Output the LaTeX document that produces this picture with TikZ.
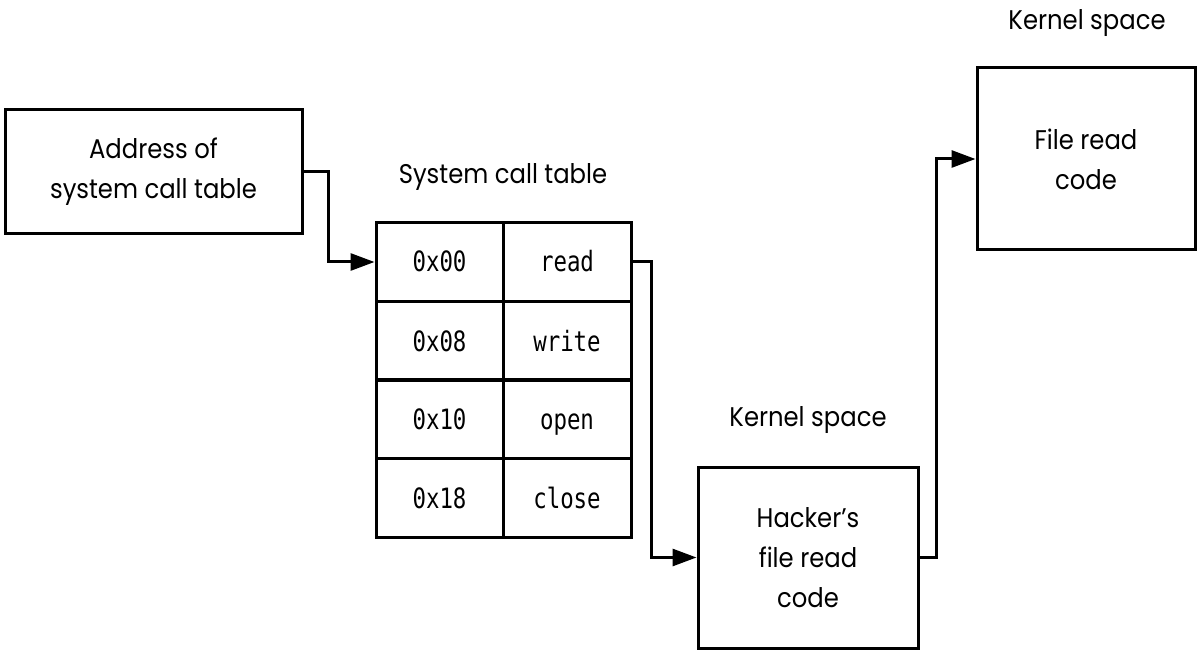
\documentclass[tikz,border=0pt]{standalone}
\usepackage{fontspec}
\setmainfont[FakeStretch=0.9]{Poppins}
\setmonofont[FakeStretch=0.8]{DejaVu Sans Mono}
\usetikzlibrary{arrows.meta}
\tikzset{
  box/.style={draw, line width=3pt, inner sep=0pt, align=center, font=\fontsize{27}{40}\selectfont},
  cell/.style={draw, line width=3pt, inner sep=0pt, minimum height=79pt, text height=26pt, text depth=6pt, font=\ttfamily\fontsize{28}{30}\selectfont},
  lbl/.style={font=\fontsize{27}{30}\selectfont, inner sep=0pt},
  conn/.style={line width=3pt, -{Triangle[length=24pt,width=17pt]}}
}
\begin{document}
\begin{tikzpicture}[x=1pt,y=-1pt]
\useasboundingbox (0,0) rectangle (1197,655);
\node[box, minimum width=297pt, minimum height=124pt] (addr) at (153.5,171.5) {Address of\\system call table};
\node[lbl] (title) at (503,177) {System call table};
\node[cell, minimum width=127pt] (a0) at (439.5,262) {0x00};
\node[cell, minimum width=128pt] (n0) at (567,262) {read};
\node[cell, minimum width=127pt] (a1) at (439.5,341) {0x08};
\node[cell, minimum width=128pt] (n1) at (567,341) {write};
\node[cell, minimum width=127pt] (a2) at (439.5,419) {0x10};
\node[cell, minimum width=128pt] (n2) at (567,419) {open};
\node[cell, minimum width=127pt] (a3) at (439.5,498) {0x18};
\node[cell, minimum width=128pt] (n3) at (567,498) {close};
\node[lbl] (k1) at (808,420) {Kernel space};
\node[box, minimum width=220pt, minimum height=181pt] (hack) at (808,557.5) {Hacker’s\\file read\\code};
\node[lbl] (k2) at (1087,23) {Kernel space};
\node[box, minimum width=218pt, minimum height=182pt] (file) at (1086,159) {File read\\code};
\draw[conn] (addr.east) -- ++(25,0) |- (a0.west);
\draw[conn] (n0.east) -- ++(19,0) |- (hack.west);
\draw[conn] (hack.east) -- ++(17,0) |- (file.west);
\end{tikzpicture}
\end{document}
